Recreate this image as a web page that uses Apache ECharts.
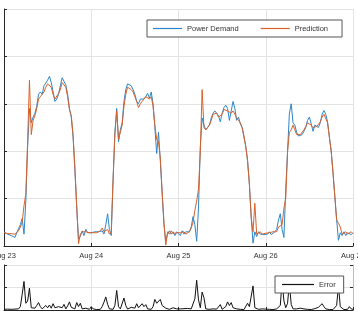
<!DOCTYPE html>
<html>
<head>
<meta charset="utf-8">
<script src="https://cdn.jsdelivr.net/npm/echarts@6/dist/echarts.min.js"></script>
<style>
  html, body { margin: 0; padding: 0; background: #fff; }
  #main { width: 358px; height: 314px; }
</style>
</head>
<body>
<div id="main"></div>
<script>
// x tick labels, one per day (hours 0, 24, 48, 72, 96)
const dayLabels = ['Aug 23', 'Aug 24', 'Aug 25', 'Aug 26', 'Aug 27'];
// samples are half-hourly
const stepHours = 0.5;

const demand = [
  0.30,0.27,0.25,0.24,0.22,0.23,0.18,0.28,0.30,0.45,
  0.58,0.25,0.95,2.10,2.90,2.60,2.72,2.80,2.95,3.20,
  3.25,3.20,3.38,3.40,3.50,3.58,3.45,3.25,3.05,3.10,
  3.20,3.38,3.55,3.58,3.40,3.20,2.90,2.72,2.30,1.60,
  0.80,0.15,0.20,0.32,0.22,0.35,0.28,0.26,
  0.28,0.25,0.30,0.26,0.30,0.27,0.32,0.25,0.45,0.68,
  0.35,0.22,1.40,2.40,2.90,2.20,2.45,2.60,3.05,3.30,
  3.42,3.42,3.38,3.30,3.20,3.05,3.00,3.10,3.12,3.10,
  3.15,3.22,3.12,3.25,3.00,2.50,1.95,2.40,1.80,1.10,
  0.45,0.10,0.25,0.32,0.25,0.30,0.22,0.30,
  0.28,0.22,0.32,0.25,0.30,0.26,0.30,0.40,0.62,0.45,
  0.10,0.80,2.10,2.70,2.55,2.45,2.50,2.55,2.70,2.80,
  2.85,2.86,2.75,2.62,2.80,2.92,2.97,2.90,2.65,2.85,
  3.05,2.90,2.65,2.72,2.58,2.50,2.30,2.10,1.80,1.30,
  0.60,0.06,0.30,0.20,0.30,0.25,0.28,0.24,
  0.28,0.25,0.30,0.24,0.28,0.30,0.35,0.55,0.68,0.35,
  0.18,1.20,2.00,2.80,3.00,2.60,2.55,2.40,2.32,2.32,
  2.35,2.42,2.50,2.65,2.72,2.58,2.42,2.55,2.52,2.50,
  2.60,2.78,2.86,2.78,2.62,2.30,2.00,1.55,1.05,0.55,
  0.12,0.28,0.22,0.30,0.22,0.28,0.30,0.24,0.28
];

const prediction = [
  0.28,0.27,0.26,0.25,0.26,0.24,0.25,0.27,0.32,0.40,
  0.50,0.85,1.10,2.20,3.50,2.35,2.65,2.75,2.90,3.10,
  3.15,3.20,3.25,3.35,3.42,3.45,3.35,3.20,3.10,3.10,
  3.22,3.30,3.45,3.42,3.35,3.15,2.88,2.75,2.35,1.65,
  0.85,0.05,0.25,0.30,0.27,0.30,0.30,0.28,
  0.27,0.28,0.27,0.28,0.28,0.32,0.38,0.30,0.30,0.35,
  0.25,0.30,1.40,2.35,2.85,2.25,2.40,2.55,2.95,3.20,
  3.35,3.35,3.30,3.25,3.15,3.05,2.92,3.00,3.05,3.10,
  3.15,3.15,3.10,3.15,2.95,2.55,2.25,2.20,1.85,1.15,
  0.50,0.02,0.30,0.25,0.32,0.26,0.30,0.28,
  0.25,0.28,0.27,0.30,0.25,0.28,0.30,0.38,0.50,0.75,
  0.95,1.20,2.00,3.30,2.50,2.45,2.50,2.55,2.65,2.78,
  2.80,2.80,2.72,2.68,2.78,2.88,2.92,2.85,2.85,2.80,
  2.85,2.78,2.70,2.65,2.60,2.50,2.32,2.10,1.80,1.30,
  0.60,0.30,0.90,0.25,0.28,0.30,0.25,0.28,
  0.27,0.30,0.28,0.27,0.30,0.28,0.30,0.40,0.42,0.45,
  0.80,1.00,2.00,2.40,2.45,2.55,2.45,2.35,2.32,2.35,
  2.38,2.45,2.52,2.60,2.62,2.55,2.50,2.52,2.52,2.55,
  2.62,2.72,2.78,2.75,2.60,2.30,2.00,1.55,1.05,0.55,
  0.48,0.40,0.25,0.28,0.30,0.25,0.28,0.30,0.26
];

const errorVals = [
  0.03,0.02,0.04,0.02,0.03,0.02,0.04,0.03,0.05,0.15,
  0.70,1.27,0.30,0.40,0.97,0.10,0.12,0.08,0.20,0.33,
  0.15,0.05,0.12,0.20,0.10,0.22,0.08,0.28,0.10,0.05,
  0.15,0.22,0.10,0.25,0.05,0.18,0.36,0.12,0.20,0.05,
  0.33,0.15,0.30,0.05,0.03,0.08,0.05,0.03,0.15,0.05,
  0.08,0.02,0.05,0.03,0.15,0.35,0.58,0.25,0.05,0.08,
  0.03,0.20,0.87,0.15,0.05,0.02,0.53,0.20,0.04,0.03,
  0.12,0.20,0.08,0.28,0.10,0.05,0.28,0.15,0.24,0.05,
  0.08,0.03,0.15,0.47,0.30,0.38,0.47,0.20,0.28,0.08,
  0.15,0.03,0.05,0.10,0.03,0.05,0.03,0.05,0.02,0.06,
  0.03,0.07,0.02,0.05,0.10,0.50,1.32,0.45,0.10,0.80,
  0.55,0.05,0.08,0.03,0.10,0.05,0.12,0.04,0.08,0.24,
  0.03,0.05,0.15,0.36,0.20,0.33,0.10,0.15,0.05,0.12,
  0.03,0.05,0.02,0.10,0.30,0.15,0.20,1.07,0.10,0.05,
  0.03,0.02,0.05,0.03,0.04,0.02,0.03,0.05,0.02,0.04,
  0.05,0.12,0.20,1.30,0.40,0.10,0.30,1.20,0.25,0.05,
  0.03,0.05,0.02,0.08,0.03,0.05,0.10,0.03,0.05,0.02,
  0.03,0.06,0.05,0.12,0.05,0.28,0.15,0.05,0.04,0.02,
  0.03,0.02,0.05,0.20,1.10,0.15,0.08,0.02,0.05,0.03,
  0.15,0.05,0.03
];

const toPairs = arr => arr.map((v, i) => [i * stepHours, v]);

const axisDark = '#262626';
const gridGray = '#e3e3e3';
const font = 'Liberation Sans, Arial, sans-serif';

const mychart = echarts.init(document.getElementById('main'));

mychart.setOption({
  animation: false,
  backgroundColor: '#fff',
  grid: [
    { left: 4, top: 9, right: 5, height: 237, containLabel: false, outerBoundsMode: 'none' },
    { left: 4, top: 265, right: 5, height: 45, containLabel: false, outerBoundsMode: 'none' }
  ],
  xAxis: [
    {
      gridIndex: 0, type: 'value', min: 0, max: 96, interval: 24,
      axisLine: { show: true, onZero: false, lineStyle: { color: axisDark } },
      axisTick: { show: true, inside: true, length: 3, lineStyle: { color: axisDark } },
      axisLabel: {
        formatter: v => dayLabels[v / 24],
        color: '#333', fontSize: 7.5, fontFamily: font, margin: 6,
        showMinLabel: true, showMaxLabel: true,
        alignMinLabel: 'center', alignMaxLabel: 'center', hideOverlap: false
      },
      splitLine: { show: true, lineStyle: { color: gridGray } }
    },
    {
      gridIndex: 1, type: 'value', min: 0, max: 96, interval: 24,
      axisLine: { show: true, onZero: false, lineStyle: { color: axisDark } },
      axisTick: { show: true, inside: true, length: 3, lineStyle: { color: axisDark } },
      axisLabel: { show: false },
      splitLine: { show: true, lineStyle: { color: gridGray } }
    }
  ],
  yAxis: [
    {
      gridIndex: 0, type: 'value', min: 0, max: 5, interval: 1,
      axisLine: { show: true, lineStyle: { color: axisDark } },
      axisTick: { show: true, inside: true, length: 3, lineStyle: { color: axisDark } },
      axisLabel: { show: false },
      splitLine: { show: true, lineStyle: { color: gridGray } }
    },
    {
      gridIndex: 1, type: 'value', min: 0, max: 2, interval: 1,
      axisLine: { show: true, lineStyle: { color: axisDark } },
      axisTick: { show: true, inside: true, length: 3, lineStyle: { color: axisDark } },
      axisLabel: { show: false },
      splitLine: { show: true, lineStyle: { color: gridGray } }
    },
    {
      gridIndex: 1, type: 'value', min: 0, max: 2, interval: 1, position: 'right',
      axisLine: { show: true, lineStyle: { color: '#bdbdbd' } },
      axisTick: { show: true, inside: true, length: 3, lineStyle: { color: axisDark } },
      axisLabel: { show: false },
      splitLine: { show: false }
    }
  ],
  legend: [
    {
      data: ['Power Demand', 'Prediction'],
      left: 147, top: 20,
      icon: 'rect',
      backgroundColor: '#fff', borderColor: '#555', borderWidth: 1, borderRadius: 0,
      padding: [4, 14, 4, 6],
      itemWidth: 29, itemHeight: 1.2, itemGap: 22,
      textStyle: { fontSize: 7.5, color: '#333', fontFamily: font, lineHeight: 9 }
    },
    {
      data: ['Error'],
      left: 275, top: 276,
      icon: 'rect',
      backgroundColor: '#fff', borderColor: '#555', borderWidth: 1, borderRadius: 0,
      padding: [4, 8, 4, 7],
      itemWidth: 32, itemHeight: 1.2,
      textStyle: { fontSize: 7.5, color: '#333', fontFamily: font, lineHeight: 9 }
    }
  ],
  series: [
    {
      name: 'Power Demand', type: 'line', xAxisIndex: 0, yAxisIndex: 0,
      data: toPairs(demand), symbol: 'none',
      lineStyle: { width: 1, color: '#2c86c9' }, itemStyle: { color: '#2c86c9' }
    },
    {
      name: 'Prediction', type: 'line', xAxisIndex: 0, yAxisIndex: 0,
      data: toPairs(prediction), symbol: 'none',
      lineStyle: { width: 1, color: '#d9622b' }, itemStyle: { color: '#d9622b' }
    },
    {
      name: 'Error', type: 'line', xAxisIndex: 1, yAxisIndex: 1,
      data: toPairs(errorVals), symbol: 'none',
      lineStyle: { width: 1, color: '#111' }, itemStyle: { color: '#111' }
    }
  ]
});
</script>
</body>
</html>
